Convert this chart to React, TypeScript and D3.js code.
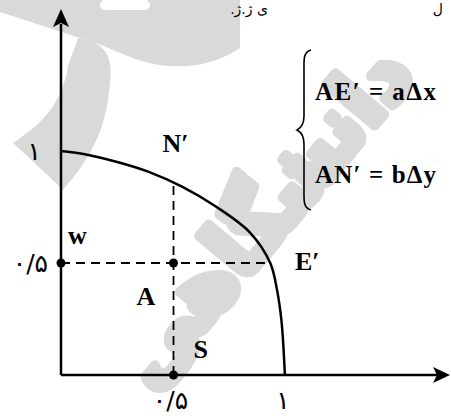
import React from "react";
import * as d3 from "d3";

// frontier curve (x, y in units)
const curveX = [0, 0.1, 0.25, 0.39, 0.54, 0.69, 0.84, 0.93, 0.96, 0.98, 0.995];
const curveY = [1, 0.987, 0.951, 0.907, 0.84, 0.751, 0.636, 0.5, 0.38, 0.24, 0];

// marked points w, A, S
const pointX = [0, 0.5, 0.5];
const pointY = [0.5, 0.5, 0];

// ticks and their labels
const tickValues = [0.5, 1];
const tickLabels = ["۰/۵", "۱"];

const equations = ["AE′ = aΔx", "AN′ = bΔy"];

const W = 451;
const H = 416;

const App = () => {
  const x = d3.scaleLinear().domain([0, 1]).range([61, 286]);
  const y = d3.scaleLinear().domain([0, 1]).range([375, 151]);

  const line = d3
    .line<number>()
    .x((d, i) => x(curveX[i]))
    .y((d, i) => y(curveY[i]))
    .curve(d3.curveCatmullRom.alpha(0.5));

  // where the dashed guides meet the curve
  const yOnCurve = d3.scaleLinear().domain(curveX).range(curveY)(0.5);
  const xOnCurve = d3
    .scaleLinear()
    .domain(curveY.slice().reverse())
    .range(curveX.slice().reverse())(0.5);

  const serif = "Liberation Serif, Times New Roman, serif";
  const fa = "DejaVu Sans, sans-serif";

  return (
    <svg
      width={W}
      height={H}
      style={{ position: "absolute", left: 0, top: 0, background: "#fff" }}
    >
      {/* watermark */}
      <g fill="#d9d9d9">
        <path d="M0,0 L240,0 L240,48 C205,72 160,70 128,56 C112,50 96,42 80,38 L0,12 Z" />
        <path d="M78,38 C108,42 113,60 110,82 C107,120 98,150 63,190 C45,172 27,156 13,143 C42,124 62,104 68,66 Z" />
        <text
          transform="translate(284,234) rotate(-50)"
          fontSize={84}
          fontWeight="bold"
          textAnchor="middle"
          fontFamily={fa}
          direction="rtl"
          stroke="#d9d9d9"
          strokeWidth={10}
          strokeLinejoin="round"
        >
          دانشگاهی
        </text>
      </g>
      <rect x={100} y={0} width={50} height={10} fill="#fff" rx={5} />

      {/* line of the page above */}
      <g fontFamily={fa} fontSize={14} fill="#000" direction="rtl">
        <text x={268} y={14} textAnchor="start">ی ژ.ژ.</text>
        <text x={443} y={14} textAnchor="start">ل</text>
      </g>

      {/* axes */}
      <g stroke="#000" strokeWidth={2.5}>
        <line x1={x(0)} y1={y(0)} x2={438} y2={y(0)} />
        <line x1={x(0)} y1={y(0)} x2={x(0)} y2={24} />
      </g>
      <path
        d={`M${x(0)},9 L${x(0) - 8},27 L${x(0)},23 L${x(0) + 8},27 Z`}
        fill="#000"
      />
      <path
        d={`M450,${y(0)} L433,${y(0) - 8} L437,${y(0)} L433,${y(0) + 8} Z`}
        fill="#000"
      />

      {/* dashed guides */}
      <g stroke="#000" strokeWidth={1.8} strokeDasharray="9,6">
        <line x1={x(0)} y1={y(0.5)} x2={x(xOnCurve)} y2={y(0.5)} />
        <line x1={x(0.5)} y1={y(0)} x2={x(0.5)} y2={y(yOnCurve) + 3} />
      </g>

      {/* curve */}
      <path d={line(curveX) || ""} fill="none" stroke="#000" strokeWidth={2.5} />

      {/* points */}
      {pointX.map((px, i) => (
        <circle key={i} cx={x(px)} cy={y(pointY[i])} r={4.5} fill="#000" />
      ))}

      {/* tick labels */}
      <g fontFamily={fa} fontSize={25} fill="#000">
        {tickValues.map((v, i) => (
          <text key={"x" + i} x={x(v) - 3} y={y(0) + 34} textAnchor="middle">
            {tickLabels[i]}
          </text>
        ))}
        {tickValues.map((v, i) => (
          <text
            key={"y" + i}
            x={v === 1 ? x(0) - 20 : x(0) - 13}
            y={y(v) + 9}
            textAnchor="end"
          >
            {tickLabels[i]}
          </text>
        ))}
      </g>

      {/* point labels */}
      <g fontFamily={serif} fontWeight={700} fontSize={26} fill="#000">
        <text x={x(0.5) - 11} y={y(1) + 1}>N′</text>
        <text x={x(1) + 9} y={y(0.5) + 7}>E′</text>
        <text x={x(0) + 7} y={y(0.5) - 19}>w</text>
        <text x={x(0.5) - 37} y={y(0.5) + 42}>A</text>
        <text x={x(0.5) + 20} y={y(0) - 17}>S</text>
      </g>

      {/* brace and equations */}
      <path
        d="M311,50 C303,52 304,60 304,70 L304,116 C304,124 301,128 297,130 C301,132 304,136 304,144 L304,190 C304,200 303,208 311,210"
        fill="none"
        stroke="#000"
        strokeWidth={1.6}
      />
      <g fontFamily={serif} fontWeight={700} fontSize={25} fill="#000">
        {equations.map((eq, i) => (
          <text
            key={i}
            x={315}
            y={i === 0 ? 100 : 183}
            textLength={121}
            lengthAdjust="spacing"
          >
            {eq}
          </text>
        ))}
      </g>
    </svg>
  );
};

export default App;
